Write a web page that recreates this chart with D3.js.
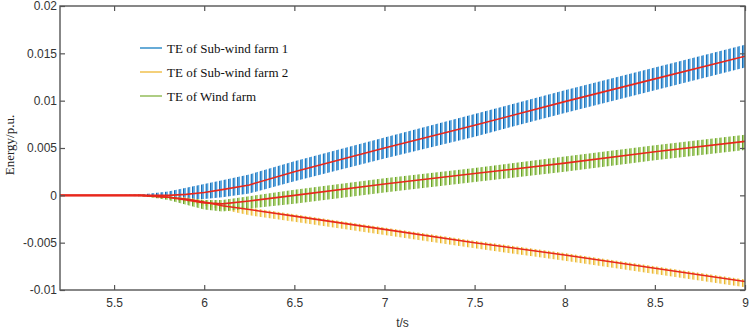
<!DOCTYPE html>
<html>
<head>
<meta charset="utf-8">
<script src="https://cdn.jsdelivr.net/npm/d3@7"></script>
<style>
  body { margin: 0; background: #fff; }
  svg { display: block; }
</style>
</head>
<body>
<svg id="chart"></svg>
<script>
const tNodes = [5.2, 5.5, 5.65, 5.8, 5.9, 6.0, 6.1, 6.25, 6.5, 7.0, 7.5, 8.0, 8.5, 9.0];

// Sub-wind farm 1 (blue)
const sub1Upper = [0, 0.00003, 0.0001, 0.0004, 0.0008, 0.0012, 0.0016, 0.0022, 0.0036, 0.0061, 0.0086, 0.0111, 0.0135, 0.0159];
const sub1Lower = [0, -0.00003, -0.0001, -0.0002, -0.0004, -0.0004, -0.0002, 0.0002, 0.0015, 0.0039, 0.0062, 0.0087, 0.0111, 0.0135];
const sub1Trend = [0, 0, 0, 0, 0.0001, 0.0003, 0.0006, 0.0011, 0.0025, 0.0050, 0.0074, 0.0099, 0.0123, 0.0147];

// Sub-wind farm 2 (yellow)
const sub2Upper = [0, 0.00002, 0.00005, -0.0001, -0.0002, -0.0005, -0.0008, -0.0013, -0.0020, -0.0034, -0.0048, -0.0061, -0.0075, -0.0089];
const sub2Lower = [0, -0.00002, -0.0001, -0.0004, -0.0007, -0.0011, -0.0015, -0.0021, -0.0028, -0.0042, -0.0056, -0.0069, -0.0083, -0.0097];
const sub2Trend = [0, 0, 0, -0.0002, -0.0004, -0.0007, -0.0011, -0.0015, -0.0022, -0.0036, -0.0050, -0.0063, -0.0077, -0.0091];

// Wind farm (green)
const windUpper = [0, 0.00002, 0.00005, -0.0001, -0.0003, -0.0005, -0.0005, -0.0001, 0.0006, 0.0018, 0.0029, 0.0041, 0.0053, 0.0064];
const windLower = [0, -0.00002, -0.00005, -0.0005, -0.0010, -0.0015, -0.0017, -0.0014, -0.0009, 0.0003, 0.0014, 0.0025, 0.0037, 0.0048];
const windTrend = [0, 0, 0, -0.0002, -0.0005, -0.0008, -0.0009, -0.0006, 0.0000, 0.0012, 0.0023, 0.0034, 0.0046, 0.0057];

const oscPeriod = 0.025; // s, one oscillation cycle

const xTicks = [5.5, 6, 6.5, 7, 7.5, 8, 8.5, 9];
const xTickLabels = ["5.5", "6", "6.5", "7", "7.5", "8", "8.5", "9"];
const yTicks = [-0.01, -0.005, 0, 0.005, 0.01, 0.015, 0.02];
const yTickLabels = ["-0.01", "-0.005", "0", "0.005", "0.01", "0.015", "0.02"];

const legendNames = ["TE of Sub-wind farm 1", "TE of Sub-wind farm 2", "TE of Wind farm"];

const width = 754, height = 329;
const margin = {top: 6, right: 9, bottom: 39, left: 60};
const innerW = width - margin.left - margin.right;
const innerH = height - margin.top - margin.bottom;

const svg = d3.select("#chart").attr("width", width).attr("height", height);

const x = d3.scaleLinear().domain([5.2, 9]).range([0, innerW]);
const y = d3.scaleLinear().domain([-0.01, 0.02]).range([innerH, 0]);

const defs = svg.append("defs");
defs.append("clipPath").attr("id", "plotClip")
  .append("rect").attr("width", innerW).attr("height", innerH);

// stripe patterns stand in for the fast oscillation inside each envelope
const pw = x(5.2 + oscPeriod) - x(5.2);
function stripes(id, dark, light, wDark, wLight) {
  const p = defs.append("pattern")
    .attr("id", id)
    .attr("patternUnits", "userSpaceOnUse")
    .attr("x", margin.left)
    .attr("width", pw)
    .attr("height", 10);
  p.append("rect").attr("x", 0).attr("width", wDark).attr("height", 10).attr("fill", dark);
  p.append("rect").attr("x", wDark).attr("width", wLight).attr("height", 10).attr("fill", light);
}
stripes("pBlue", "#0b63ad", "#45a3e6", 1.4, 1.3);
stripes("pYellow", "#e8ac1c", "#f5d66a", 1.3, 1.0);
stripes("pGreen", "#5e9a22", "#9ccb4c", 1.3, 1.2);

const g = svg.append("g").attr("transform", `translate(${margin.left},${margin.top})`);
const plot = g.append("g").attr("clip-path", "url(#plotClip)");

const area = d3.area()
  .x(d => x(d.t))
  .y0(d => y(d.lo))
  .y1(d => y(d.hi));
const line = d3.line()
  .x(d => x(d.t))
  .y(d => y(d.v));

const bands = [
  {hi: sub1Upper, lo: sub1Lower, fill: "url(#pBlue)"},
  {hi: sub2Upper, lo: sub2Lower, fill: "url(#pYellow)"},
  {hi: windUpper, lo: windLower, fill: "url(#pGreen)"}
];
bands.forEach(b => {
  const rows = tNodes.map((t, i) => ({t: t, hi: b.hi[i], lo: b.lo[i]}));
  plot.append("path").datum(rows)
    .attr("d", area)
    .attr("fill", b.fill);
});

[sub1Trend, sub2Trend, windTrend].forEach(tr => {
  plot.append("path")
    .datum(tNodes.map((t, i) => ({t: t, v: tr[i]})))
    .attr("d", line)
    .attr("fill", "none")
    .attr("stroke", "#e8271c")
    .attr("stroke-width", 1.6);
});

// axes, ticks pointing inward
const axisColor = "#555";
const tickFont = "'Liberation Sans', Arial, sans-serif";

const xb = g.append("g").attr("transform", `translate(0,${innerH})`)
  .call(d3.axisBottom(x).tickValues(xTicks).tickSize(-5).tickPadding(8)
    .tickFormat((d, i) => xTickLabels[i]));
const xt = g.append("g")
  .call(d3.axisTop(x).tickValues(xTicks).tickSize(-5).tickFormat(""));
const yl = g.append("g")
  .call(d3.axisLeft(y).tickValues(yTicks).tickSize(-5).tickPadding(3)
    .tickFormat((d, i) => yTickLabels[i]));
const yr = g.append("g").attr("transform", `translate(${innerW},0)`)
  .call(d3.axisRight(y).tickValues(yTicks).tickSize(-5).tickFormat(""));

[xb, xt, yl, yr].forEach(a => {
  a.select(".domain").remove();
  a.selectAll(".tick line").attr("stroke", axisColor).attr("stroke-width", 1.2);
  a.selectAll(".tick text")
    .attr("fill", "#333")
    .attr("font-family", tickFont)
    .attr("font-size", 12);
});

g.append("rect")
  .attr("width", innerW)
  .attr("height", innerH)
  .attr("fill", "none")
  .attr("stroke", axisColor)
  .attr("stroke-width", 1.4);

// axis titles
g.append("text")
  .attr("x", innerW / 2)
  .attr("y", innerH + 37)
  .attr("text-anchor", "middle")
  .attr("fill", "#333")
  .attr("font-family", tickFont)
  .attr("font-size", 12)
  .text("t/s");

svg.append("text")
  .attr("transform", "translate(14,145) rotate(-90)")
  .attr("text-anchor", "middle")
  .attr("fill", "#222")
  .attr("font-family", "'Liberation Serif', 'Times New Roman', serif")
  .attr("font-size", 13)
  .text("Energy/p.u.");

// legend
const legendColors = ["#0072bd", "#edb120", "#77ac30"];
const legend = svg.append("g").attr("transform", "translate(140,48)");
legendNames.forEach((name, i) => {
  const row = legend.append("g").attr("transform", `translate(0,${i * 24})`);
  row.append("line")
    .attr("x1", 0).attr("x2", 22)
    .attr("stroke", legendColors[i])
    .attr("stroke-width", 1.2);
  row.append("text")
    .attr("x", 27)
    .attr("y", 4.5)
    .attr("fill", "#111")
    .attr("font-family", "'Liberation Serif', 'Times New Roman', serif")
    .attr("font-size", 13)
    .text(name);
});
</script>
</body>
</html>
